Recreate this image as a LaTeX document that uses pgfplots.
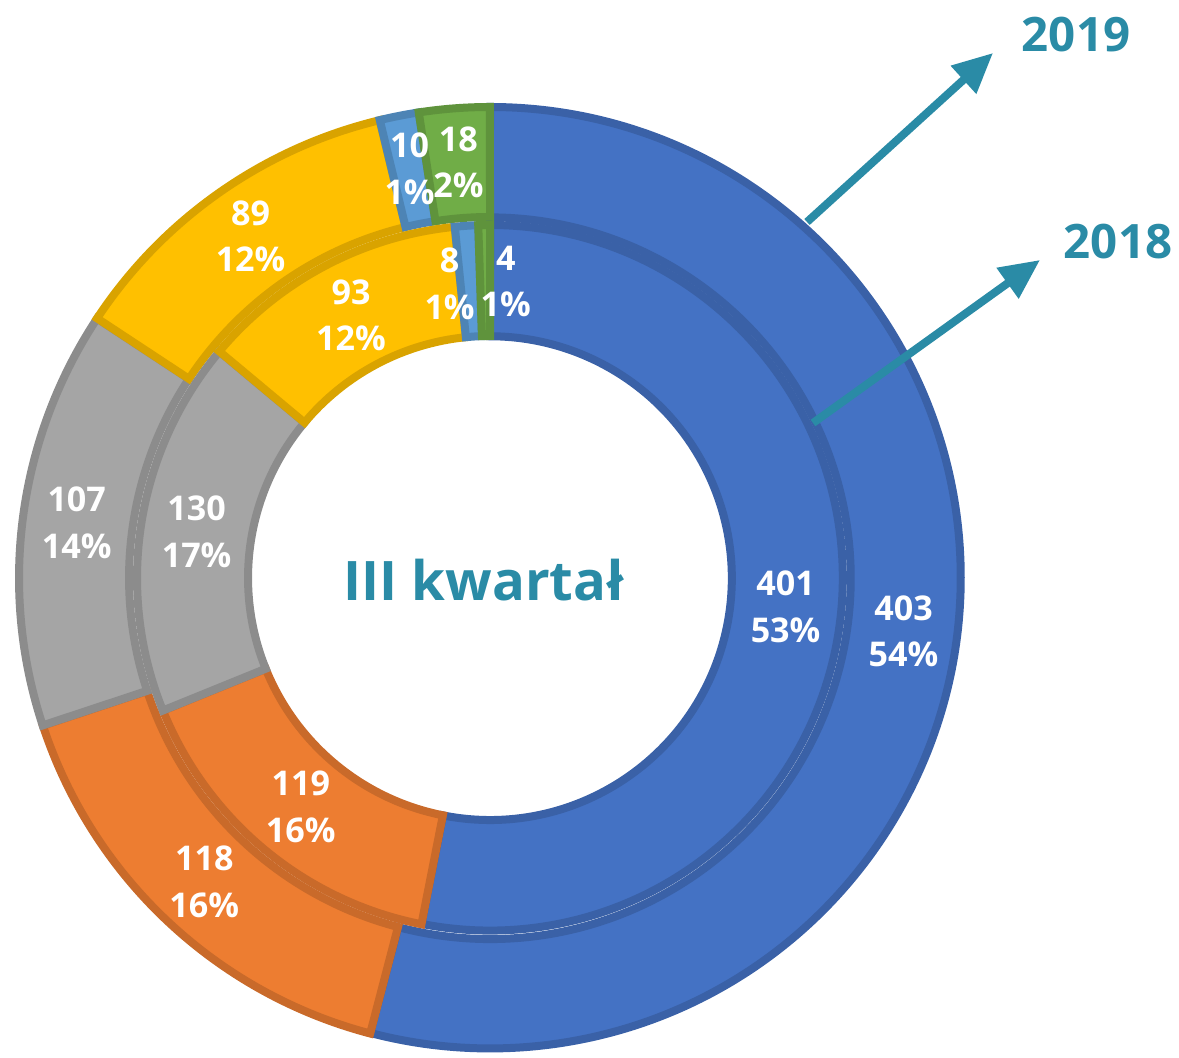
\documentclass[border=0pt]{standalone}
\usepackage{pgfplots}
\pgfplotsset{compat=1.18}
\usepackage{pgfplotstable}
\usepackage{fontspec}
\setmainfont{Open Sans}
\usetikzlibrary{arrows.meta}

\definecolor{cBlue}{HTML}{4472C4}
\definecolor{cOrange}{HTML}{ED7D31}
\definecolor{cGray}{HTML}{A5A5A5}
\definecolor{cYellow}{HTML}{FFC000}
\definecolor{cLBlue}{HTML}{5B9BD5}
\definecolor{cGreen}{HTML}{70AD47}
\definecolor{teal1}{HTML}{2A8BA6}

% 2019 (outer ring)
\pgfplotstableread{
val col nudge
403 cBlue 0
118 cOrange 0
107 cGray 0
89 cYellow 0
10 cLBlue 0
18 cGreen 0
}\outertab
% 2018 (inner ring)
\pgfplotstableread{
val col nudge
401 cBlue 0
119 cOrange 0
130 cGray 0
93 cYellow 0
8 cLBlue 4
4 cGreen -4
}\innertab

% #1 table, #2 inner radius, #3 outer radius, #4 label radius (px = 0.01cm), #5 0=sectors 1=labels
\newcommand\drawring[5]{%
  \pgfplotstablegetrowsof{#1}\pgfmathtruncatemacro\nr{\pgfplotsretval-1}%
  \gdef\tot{0}%
  \foreach \i in {0,...,\nr}{%
    \pgfplotstablegetelem{\i}{val}\of{#1}%
    \pgfmathsetmacro\t{\tot+\pgfplotsretval}\global\let\tot\t}%
  \gdef\cum{0}%
  \foreach \i in {0,...,\nr}{%
    \pgfplotstablegetelem{\i}{val}\of{#1}\let\v\pgfplotsretval
    \pgfplotstablegetelem{\i}{col}\of{#1}\let\c\pgfplotsretval
    \pgfplotstablegetelem{\i}{nudge}\of{#1}\let\n\pgfplotsretval
    \pgfmathsetmacro\a{90-360*(\cum/\tot)}%
    \pgfmathsetmacro\b{90-360*((\cum+\v)/\tot)}%
    \pgfmathsetmacro\m{(\a+\b)/2+\n}%
    \pgfmathtruncatemacro\p{round(100*(\v/\tot))}%
    \pgfmathsetmacro\xa{490+#3*cos(\a)}\pgfmathsetmacro\ya{479+#3*sin(\a)}%
    \pgfmathsetmacro\xb{490+#2*cos(\b)}\pgfmathsetmacro\yb{479+#2*sin(\b)}%
    \pgfmathsetmacro\xl{490+#4*cos(\m)}\pgfmathsetmacro\yl{479+#4*sin(\m)}%
    \ifnum#5=0
    \edef\tmp{\noexpand\filldraw[fill=\c, draw=\c!85!black, line width=0.08cm, line join=miter]
      (axis cs:\xa,\ya) arc[start angle=\a, end angle=\b, radius=#3*0.01cm]
      -- (axis cs:\xb,\yb) arc[start angle=\b, end angle=\a, radius=#2*0.01cm] -- cycle;}%
    \else
    \edef\tmp{\noexpand\node[text=white, font=\noexpand\fontsize{9.7}{13.2}\noexpand\selectfont\noexpand\bfseries, align=center]
      at (axis cs:\xl,\yl) {\v\noexpand\\\p\noexpand\%};}%
    \fi
    \tmp
    \pgfmathsetmacro\t{\cum+\v}\global\let\cum\t
  }%
}

\begin{document}
\begin{tikzpicture}
\begin{axis}[
  width=11.79cm, height=10.57cm, scale only axis,
  xmin=0, xmax=1179, ymin=0, ymax=1057,
  hide axis, clip=false]
\drawring{\outertab}{361}{471}{417}{0}
\drawring{\innertab}{242}{353}{297}{0}
\drawring{\outertab}{361}{471}{417}{1}
\drawring{\innertab}{242}{353}{297}{1}
\node[text=teal1, font=\fontsize{15.5}{19}\selectfont\bfseries] at (axis cs:484,477) {III kwartał};
\addplot[teal1, line width=0.08cm, -{Triangle[length=0.4cm,width=0.36cm]}] coordinates {(807,835) (993,1004)};
\addplot[teal1, line width=0.08cm, -{Triangle[length=0.4cm,width=0.36cm]}] coordinates {(813,634) (1040,797)};
\node[text=teal1, font=\fontsize{13.5}{16}\selectfont\bfseries] at (axis cs:1076,1022) {2019};
\node[text=teal1, font=\fontsize{13.5}{16}\selectfont\bfseries] at (axis cs:1118,815) {2018};
\end{axis}
\pgfresetboundingbox
\path[use as bounding box] (current axis.south west) rectangle (current axis.north east);
\end{tikzpicture}
\end{document}
